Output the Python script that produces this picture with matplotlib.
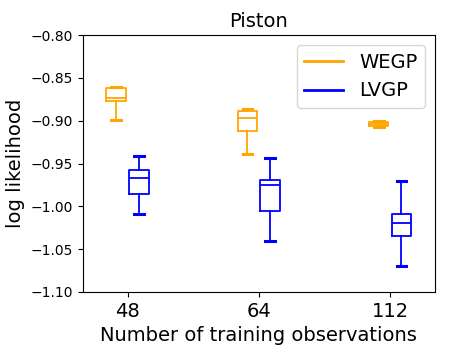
import matplotlib
matplotlib.use("Agg")
import matplotlib.pyplot as plt
from matplotlib.lines import Line2D

# training set sizes and five-number summaries
n_train = ["48", "64", "112"]
wegp_low = [-0.899, -0.939, -0.9077]
wegp_q1 = [-0.877, -0.9125, -0.906]
wegp_med = [-0.874, -0.897, -0.904]
wegp_q3 = [-0.8615, -0.8887, -0.902]
wegp_high = [-0.861, -0.8868, -0.9004]

lvgp_low = [-1.0086, -1.041, -1.070]
lvgp_q1 = [-0.986, -1.005, -1.035]
lvgp_med = [-0.967, -0.975, -1.019]
lvgp_q3 = [-0.957, -0.969, -1.009]
lvgp_high = [-0.9416, -0.944, -0.970]


def make_stats(low, q1, med, q3, high):
    return [dict(whislo=a, q1=b, med=c, q3=d, whishi=e, fliers=[])
            for a, b, c, d, e in zip(low, q1, med, q3, high)]


def draw(ax, stats, positions, color):
    ax.bxp(stats, positions=positions, widths=0.15, showfliers=False,
           boxprops=dict(color=color, linewidth=1.3),
           medianprops=dict(color=color, linewidth=1.3),
           whiskerprops=dict(color=color, linewidth=1.3),
           capprops=dict(color=color, linewidth=2.2),
           manage_ticks=False)


fig, ax = plt.subplots(figsize=(4.49, 3.59), dpi=100)
pos = [1, 2, 3]
draw(ax, make_stats(wegp_low, wegp_q1, wegp_med, wegp_q3, wegp_high),
     [p - 0.087 for p in pos], "orange")
draw(ax, make_stats(lvgp_low, lvgp_q1, lvgp_med, lvgp_q3, lvgp_high),
     [p + 0.087 for p in pos], "blue")

ax.set_xticks(pos)
ax.set_xticklabels(n_train, fontsize=14)
ax.set_xlim(0.66, 3.34)
ax.set_ylim(-1.10, -0.80)
ax.set_yticks([-1.10, -1.05, -1.00, -0.95, -0.90, -0.85, -0.80])
ax.tick_params(axis="y", labelsize=10)
ax.set_title("Piston", fontsize=14)
ax.set_xlabel("Number of training observations", fontsize=14)
ax.set_ylabel("log likelihood", fontsize=14)

handles = [Line2D([], [], color="orange", linewidth=2),
           Line2D([], [], color="blue", linewidth=2)]
ax.legend(handles, ["WEGP", "LVGP"], loc="upper right", fontsize=14)

fig.subplots_adjust(left=0.185, right=0.968, top=0.902, bottom=0.187)
fig.savefig("out.png", dpi=100)
